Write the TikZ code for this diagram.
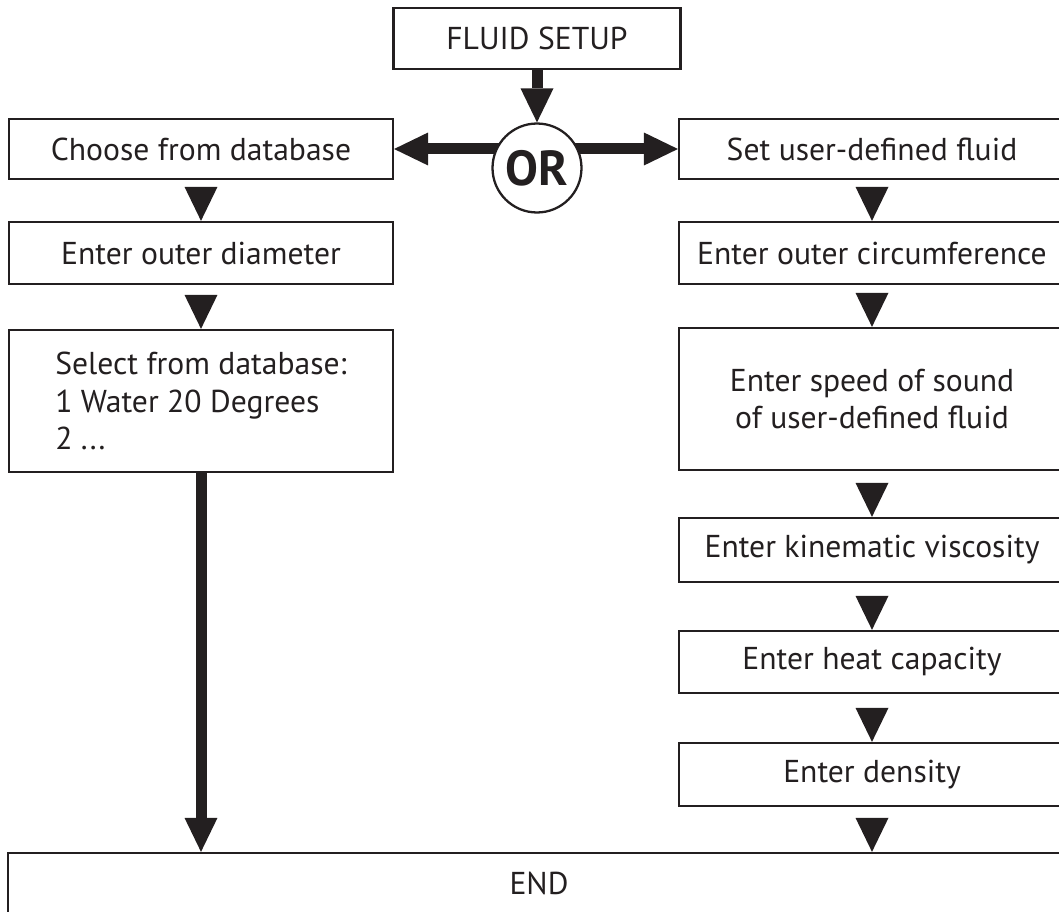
\documentclass[tikz,border=0pt]{standalone}
\usepackage{fontspec}
\setmainfont{PT Sans}
\usetikzlibrary{arrows.meta}
\definecolor{ink}{HTML}{231F20}
\tikzset{
  box/.style={draw=ink, line width=1.3pt, text=ink, inner sep=0pt,
    font=\fontsize{18}{21.5}\selectfont},
  leftbox/.style={box, minimum width=7.68cm},
  rightbox/.style={box, minimum width=7.72cm},
  fat/.style={draw=ink, line width=0.22cm,
    -{Triangle[length=0.68cm, width=0.66cm, line width=0pt]}},
  tri/.style={draw=white, line width=0.2pt,
    -{Triangle[length=0.68cm, width=0.66cm, line width=0pt, color=ink, fill=ink]}}
}
\begin{document}
\begin{tikzpicture}[x=0.02cm, y=-0.02cm]
    \clip (0,0) rectangle (1059,912);

    % Start box
    \node[box, minimum width=5.74cm, minimum height=1.22cm] (setup) at (537,38.5) {FLUID SETUP};

    % Database branch (left)
    \node[leftbox, minimum height=1.2cm] (db) at (201,149) {Choose from database};
    \node[leftbox, minimum height=1.24cm] (od) at (201,253) {Enter outer diameter};
    \node[leftbox, minimum height=2.84cm, align=left] (sel) at (201,401) {Select from database:\\1 Water 20 Degrees\\2 ...};

    % User-defined branch (right)
    \node[rightbox, minimum height=1.2cm] (ud) at (872,149) {Set user-defined fluid};
    \node[rightbox, minimum height=1.24cm] (oc) at (872,253) {Enter outer circumference};
    \node[rightbox, minimum height=2.84cm, align=center] (sos) at (872,399) {Enter speed of sound\\of user-defined fluid};
    \node[rightbox, minimum height=1.28cm] (kv) at (872,550) {Enter kinematic viscosity};
    \node[rightbox, minimum height=1.24cm] (hc) at (872,662) {Enter heat capacity};
    \node[rightbox, minimum height=1.26cm] (den) at (872,774.5) {Enter density};

    % End box
    \node[box, minimum width=21.24cm, minimum height=1.2cm] (end) at (539,883) {END};

    % Branching arrows behind the OR circle
    \coordinate (fork) at (setup.south |- db.east);
    \draw[fat] (fork) -- (db.east);
    \draw[fat] (fork) -- (ud.west);

    % OR circle
    \node[circle, draw=ink, line width=1.3pt, fill=white, text=ink, inner sep=0pt,
      minimum size=1.78cm, font=\bfseries\fontsize{28}{28}\selectfont] (or) at (537,168) {OR};
    \draw[fat] (setup.south) -- (or.north);

    % Step triangles
    \foreach \a/\b in {db/od, od/sel, ud/oc, oc/sos, sos/kv, kv/hc, hc/den}
      \draw[tri] (\a) -- (\b);
    \draw[tri] (den.south) -- (den.south |- end.north);

    % Long arrow to the end
    \draw[fat] (sel.south) -- (sel.south |- end.north);
\end{tikzpicture}
\end{document}
